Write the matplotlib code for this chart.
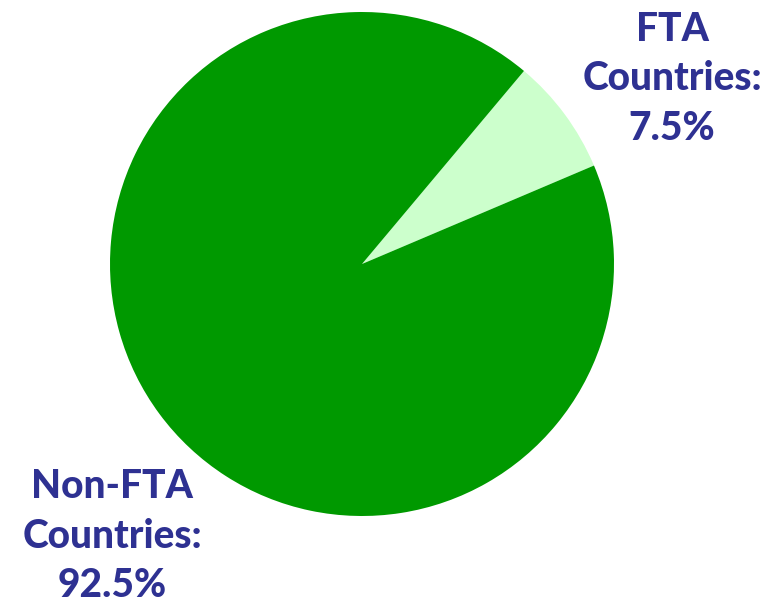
import matplotlib
matplotlib.use("Agg")
import matplotlib.pyplot as plt

categories = ["FTA Countries", "Non-FTA Countries"]
label_lines = [["FTA", "Countries:"], ["Non-FTA", "Countries:"]]
shares = [7.5, 92.5]
colors = ["#ccffcc", "#009900"]
text_color = "#2e3192"

W, H = 767, 604
fig = plt.figure(figsize=(W / 100, H / 100), dpi=100)
ax = fig.add_axes([0, 0, 1, 1])

ax.pie(shares, colors=colors, startangle=23, counterclock=True,
       center=(362, H - 264), radius=252, frame=True,
       wedgeprops=dict(linewidth=0))
ax.set_xlim(0, W)
ax.set_ylim(0, H)
ax.set_aspect("equal")
ax.axis("off")

label_pos = [(672, H - 79), (112, H - 536)]
for lines, val, (x, y) in zip(label_lines, shares, label_pos):
    txt = "\n".join(lines + [f"{val}%"])
    ax.text(x, y, txt, ha="center", va="center", color=text_color,
            fontsize=28, fontweight="black", family="Lato", linespacing=1.42)

fig.savefig("out.png", dpi=100)
